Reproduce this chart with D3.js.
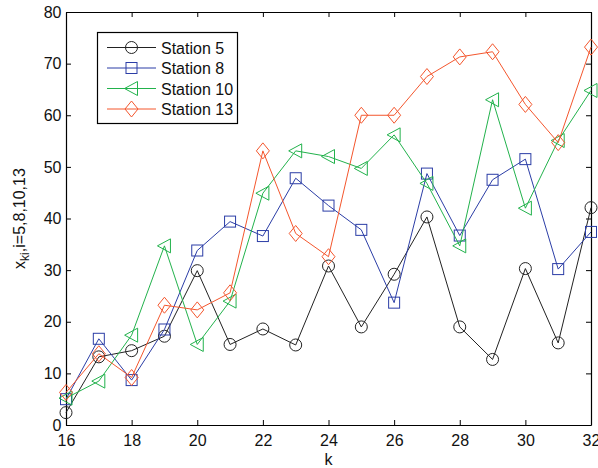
<!DOCTYPE html>
<html><head><meta charset="utf-8">
<script src="https://cdn.jsdelivr.net/npm/d3@7"></script>
<style>body{margin:0;background:#fff}svg{display:block}text{font-family:"Liberation Sans",Arial,sans-serif}</style>
</head><body><svg id="c" width="598" height="468"></svg>
<script>
const k = [16,17,18,19,20,21,22,23,24,25,26,27,28,29,30,31,32];
const station5  = [2.4,13.2,14.4,17.2,29.9,15.6,18.6,15.5,30.8,19.0,29.2,40.3,19.0,12.7,30.3,15.9,42.1];
const station8  = [5.0,16.7,8.7,18.5,33.8,39.4,36.6,47.8,42.5,37.8,23.7,48.7,36.7,47.5,51.5,30.2,37.4];
const station10 = [5.2,8.5,17.4,34.7,15.6,24.0,44.9,53.1,52.0,49.7,56.2,46.8,34.7,63.0,42.0,55.1,64.8];
const station13 = [6.3,13.8,9.2,23.2,22.3,25.6,53.1,37.1,32.6,60.0,60.0,67.5,71.3,72.3,62.1,54.7,73.2];
const seriesNames = ["Station 5","Station 8","Station 10","Station 13"];
const xTicks = [16,18,20,22,24,26,28,30,32];
const yTicks = [0,10,20,30,40,50,60,70,80];

const colors = ["#222222","#2b3da6","#22b24c","#f4562d"];
const markers = ["circle","square","triangle","diamond"];
const data = [station5, station8, station10, station13];

const svg = d3.select("#c");
const L=66, R=591, T=12, B=425;
const x = d3.scaleLinear().domain([16,32]).range([L,R]);
const y = d3.scaleLinear().domain([0,80]).range([B,T]);

function marker(g, type, cx, cy){
  if(type==="circle") g.append("circle").attr("cx",cx).attr("cy",cy).attr("r",6);
  else if(type==="square") g.append("rect").attr("x",cx-5.5).attr("y",cy-5.5).attr("width",11).attr("height",11);
  else if(type==="triangle") g.append("path").attr("d",`M${cx-7},${cy} L${cx+6},${cy-7} L${cx+6},${cy+7} Z`);
  else g.append("path").attr("d",`M${cx},${cy-8} L${cx+6.5},${cy} L${cx},${cy+8} L${cx-6.5},${cy} Z`);
}

// axes with inward ticks
const gx = svg.append("g").attr("transform",`translate(0,${B})`)
  .call(d3.axisBottom(x).tickValues(xTicks).tickSizeInner(-5).tickSizeOuter(0).tickPadding(10));
const gxt = svg.append("g").attr("transform",`translate(0,${T})`)
  .call(d3.axisTop(x).tickValues(xTicks).tickSizeInner(-5).tickSizeOuter(0).tickFormat(""));
const gy = svg.append("g").attr("transform",`translate(${L},0)`)
  .call(d3.axisLeft(y).tickValues(yTicks).tickSizeInner(-5).tickSizeOuter(0).tickPadding(4.5));
const gyr = svg.append("g").attr("transform",`translate(${R},0)`)
  .call(d3.axisRight(y).tickValues(yTicks).tickSizeInner(-5).tickSizeOuter(0).tickFormat(""));
[gx,gxt,gy,gyr].forEach(g=>{
  g.select(".domain").attr("stroke","#000").attr("stroke-width",1.2);
  g.selectAll(".tick line").attr("stroke","#000").attr("stroke-width",1);
  g.selectAll("text").attr("font-size",16).attr("fill","#111").style("font-family","Liberation Sans, Arial, sans-serif");
});

// series
const line = d3.line().x((d,i)=>x(k[i])).y(d=>y(d));
data.forEach((vals,si)=>{
  const g = svg.append("g").attr("fill","none").attr("stroke",colors[si]).attr("stroke-width",1);
  g.append("path").attr("d",line(vals));
  vals.forEach((v,i)=>marker(g, markers[si], x(k[i]), y(v)));
});

// labels
svg.append("text").attr("x",(L+R)/2).attr("y",465).attr("text-anchor","middle").attr("font-size",16).attr("fill","#111").text("k");
const yl = svg.append("text").attr("transform",`translate(25,${(T+B)/2}) rotate(-90)`).attr("text-anchor","middle").attr("font-size",16).attr("fill","#111");
yl.append("tspan").text("x");
yl.append("tspan").attr("font-size",12).attr("dy",4).text("ki");
yl.append("tspan").attr("dy",-4).text(",i=5,8,10,13");

// legend
const lg = svg.append("g");
lg.append("rect").attr("x",97.5).attr("y",32.5).attr("width",140).attr("height",91).attr("fill","#fff").attr("stroke","#000").attr("stroke-width",1.2);
seriesNames.forEach((n,i)=>{
  const yy = 47.5 + i*20.5;
  const g = lg.append("g").attr("fill","none").attr("stroke",colors[i]).attr("stroke-width",1);
  g.append("line").attr("x1",107).attr("x2",156).attr("y1",yy).attr("y2",yy);
  marker(g, markers[i], 131.5, yy);
  lg.append("text").attr("x",161).attr("y",yy+6).attr("font-size",16).attr("fill","#111").text(n);
});
</script></body></html>
